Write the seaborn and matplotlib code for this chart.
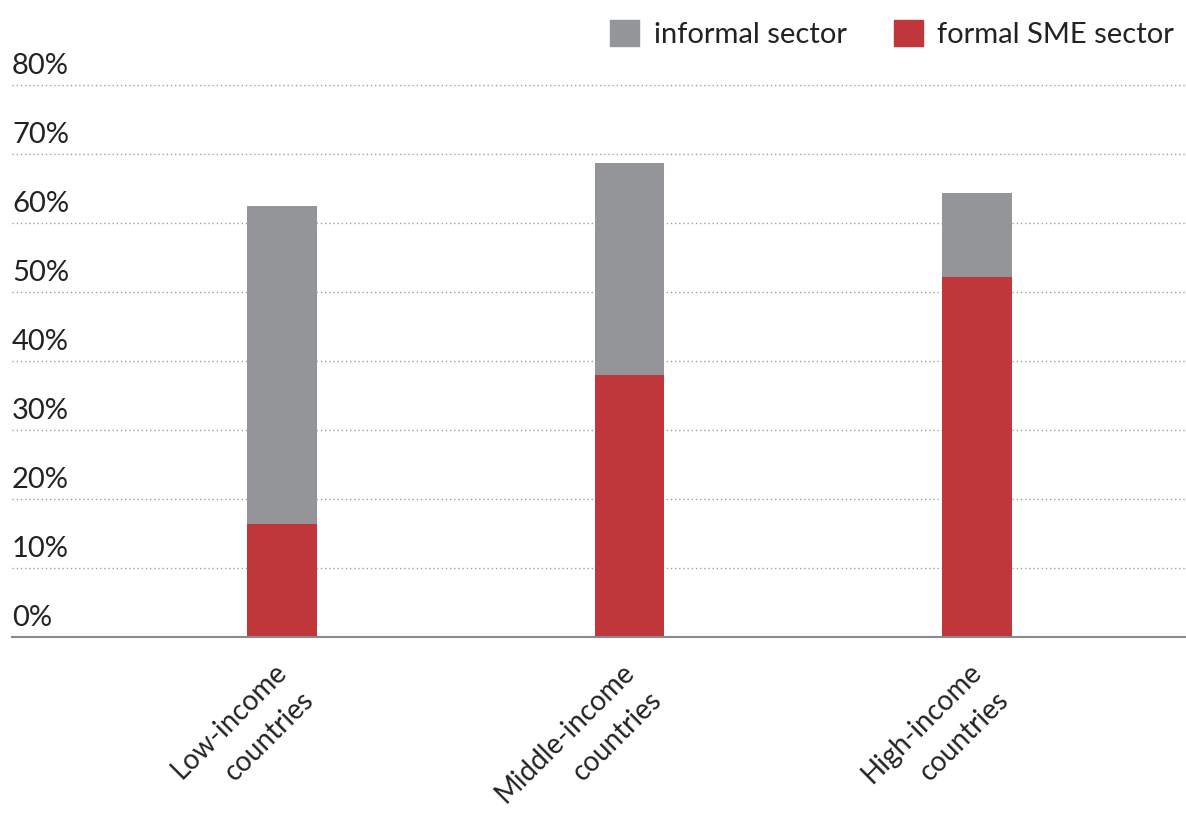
import numpy as np
import pandas as pd
import matplotlib
matplotlib.use("Agg")
import matplotlib.pyplot as plt
from matplotlib.patches import Patch
import seaborn as sns

# values (percent)
groups = ["Low-income\ncountries", "Middle-income\ncountries", "High-income\ncountries"]
formal_sme = [16.4, 38.0, 52.2]
informal = [46.1, 30.7, 12.1]
y_ticks = [0, 10, 20, 30, 40, 50, 60, 70, 80]

gray = "#939598"
red = "#bf363b"

sns.set_style("white")
plt.rcParams["font.family"] = ["Lato", "DejaVu Sans"]

df = pd.DataFrame({"group": groups, "formal": formal_sme, "informal": informal})
df["total"] = df["formal"] + df["informal"]

fig = plt.figure(figsize=(11.86, 8.13), dpi=100)
ax = fig.add_axes([12 / 1186, 176 / 813, 1174 / 1186, 554 / 813])

sns.barplot(data=df, x="group", y="total", color=gray, width=0.2,
            linewidth=0, saturation=1, ax=ax)
sns.barplot(data=df, x="group", y="formal", color=red, width=0.2,
            linewidth=0, saturation=1, ax=ax)

ax.set_xlim(-0.777, 2.601)
ax.set_ylim(0, 80.3)
ax.set_xlabel("")
ax.set_ylabel("")

# dotted gridlines
ax.set_yticks(y_ticks)
ax.set_axisbelow(True)
ax.yaxis.grid(True, linestyle=(0, (1, 2)), color="#a0a0a0", linewidth=1)
ax.tick_params(axis="y", length=0, labelleft=False)

# y labels sit above their gridline
for v in y_ticks:
    ax.annotate(f"{v}%", xy=(0, v), xycoords=("axes fraction", "data"),
                xytext=(0, 8), textcoords="offset points",
                ha="left", va="baseline", fontsize=21, color="#222222")

for s in ["top", "right", "left"]:
    ax.spines[s].set_visible(False)
ax.spines["bottom"].set_color("#8a8a8a")
ax.spines["bottom"].set_linewidth(1.5)

# rotated category labels: one text per line, right-aligned
ax.set_xticks(range(len(groups)))
ax.set_xticklabels([])
ax.tick_params(axis="x", length=0)
line_offsets = [(-6.5, -15.8), (13.3, -35.6)]  # points, per line
for i, g in enumerate(groups):
    for line, (dx, dy) in zip(g.split("\n"), line_offsets):
        ax.annotate(line, xy=(i, 0), xycoords=("data", "data"),
                    xytext=(dx, dy), textcoords="offset points",
                    rotation=45, rotation_mode="anchor", ha="right", va="top",
                    fontsize=20, color="#222222", annotation_clip=False)

handles = [Patch(color=gray, label="informal sector"),
           Patch(color=red, label="formal SME sector")]
fig.legend(handles=handles, loc="upper right", bbox_to_anchor=(1.0, 1 - 8 / 813),
           ncol=2, frameon=False, fontsize=21, handlelength=1.0,
           handleheight=1.0, handletextpad=0.5, columnspacing=1.6,
           borderaxespad=0.0, labelcolor="#222222")

fig.savefig("out.png", dpi=100)
